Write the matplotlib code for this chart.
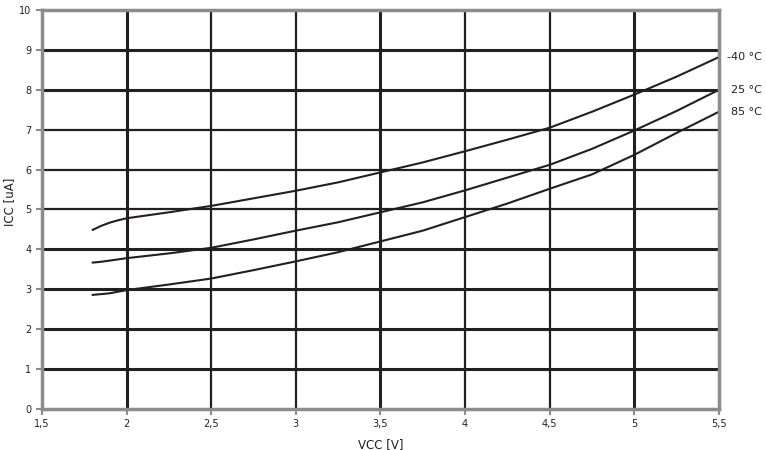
import matplotlib
matplotlib.use('Agg')
import matplotlib.pyplot as plt
import numpy as np

# supply voltage (V)
vcc = [1.8, 1.85, 1.9, 1.95, 2.0, 2.25, 2.5, 2.75, 3.0, 3.25, 3.5, 3.75, 4.0, 4.25, 4.5, 4.75, 5.0, 5.25, 5.5]

# supply current (uA) per temperature
icc_m40 = [4.49, 4.59, 4.67, 4.73, 4.78, 4.93, 5.09, 5.28, 5.47, 5.68, 5.93, 6.18, 6.46, 6.75, 7.05, 7.45, 7.88, 8.33, 8.82]
icc_25 = [3.67, 3.69, 3.72, 3.75, 3.78, 3.90, 4.04, 4.25, 4.47, 4.68, 4.93, 5.18, 5.48, 5.80, 6.12, 6.52, 6.98, 7.47, 8.00]
icc_85 = [2.86, 2.88, 2.90, 2.94, 2.98, 3.12, 3.27, 3.48, 3.70, 3.93, 4.20, 4.47, 4.81, 5.15, 5.52, 5.88, 6.37, 6.92, 7.45]

labels = ['-40 °C', '25 °C', '85 °C']

xticks = [1.5, 2, 2.5, 3, 3.5, 4, 4.5, 5, 5.5]
xticklabels = ['1,5', '2', '2,5', '3', '3,5', '4', '4,5', '5', '5,5']
yticks = list(range(0, 11))

ink = '#231f20'
gray = '#8c8c8c'

fig = plt.figure(figsize=(7.66, 4.5), dpi=100)
ax = fig.add_axes([0.0548, 0.0911, 0.8838, 0.8867])

# grid lines, some drawn heavier like the original
thick_y = [1, 2, 3, 4, 8, 9]
for y in range(1, 10):
    ax.axhline(y, color=ink, lw=2.2 if y in thick_y else 1.6, zorder=1)
thick_x = [2, 3.5, 5]
for x in [2, 2.5, 3, 3.5, 4, 4.5, 5]:
    ax.axvline(x, color=ink, lw=2.2 if x in thick_x else 1.6, zorder=1)

for ys in (icc_m40, icc_25, icc_85):
    ax.plot(vcc, ys, color=ink, lw=1.5, zorder=3)

# curve labels on the right
for ys, lab, dx in zip((icc_m40, icc_25, icc_85), labels, (0.045, 0.07, 0.07)):
    ax.text(vcc[-1] + dx, ys[-1], lab, fontsize=8, color=ink, va='center', ha='left',
            clip_on=False)

ax.set_xlim(1.5, 5.5)
ax.set_ylim(0, 10)
ax.set_xticks(xticks)
ax.set_xticklabels(xticklabels)
ax.set_yticks(yticks)
ax.tick_params(axis='both', labelsize=7, colors=gray, labelcolor=ink, length=4, width=1.5)

for s in ax.spines.values():
    s.set_color(gray)
    s.set_linewidth(2.5)
    s.set_zorder(4)

ax.set_xlabel('VCC [V]', fontsize=8.5, color=ink, labelpad=6)
ax.set_ylabel('ICC [uA]', fontsize=8.5, color=ink)
ax.yaxis.set_label_coords(-0.039, 0.52)

fig.savefig('out.png', dpi=100)
